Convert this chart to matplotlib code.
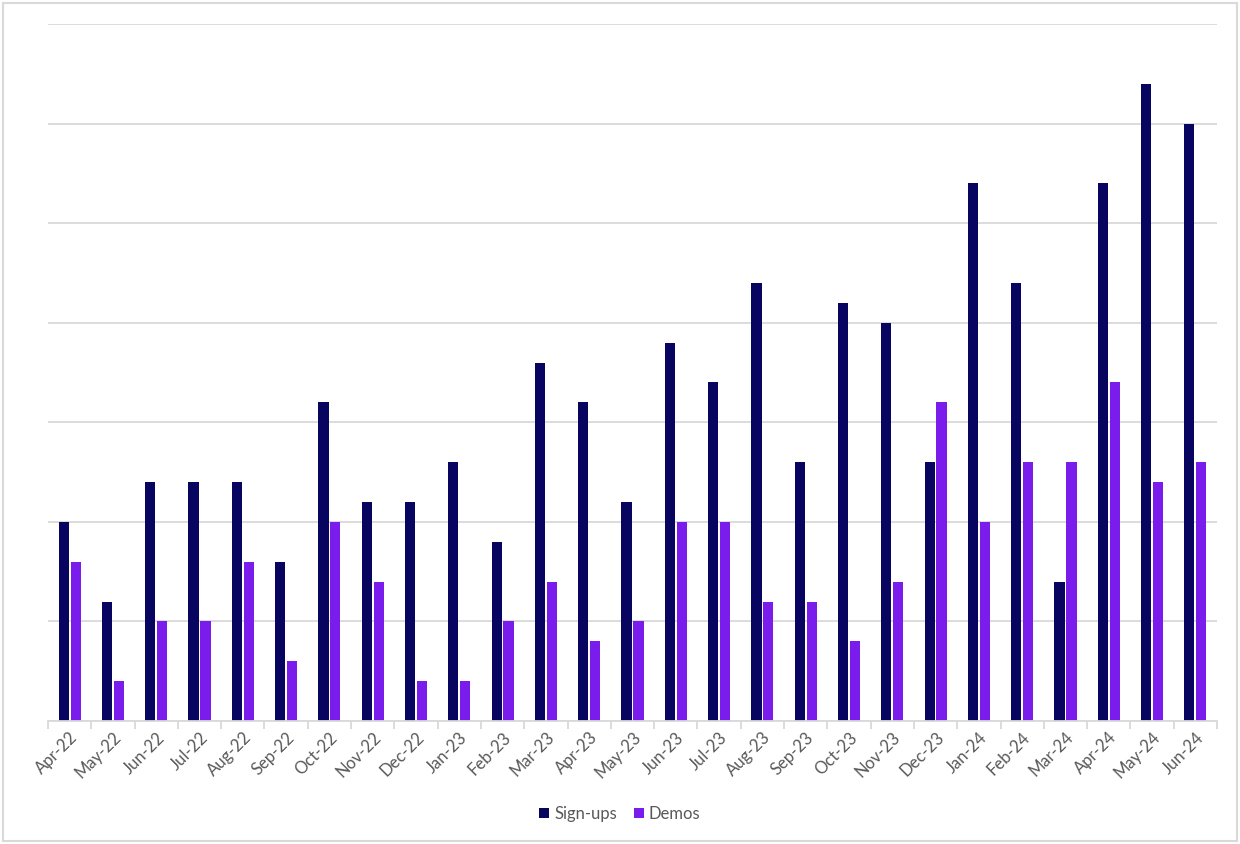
import numpy as np
import matplotlib.pyplot as plt
from matplotlib.patches import FancyBboxPatch

plt.rcParams['font.family'] = ['Lato', 'DejaVu Sans']

# data
months = ['Apr-22', 'May-22', 'Jun-22', 'Jul-22', 'Aug-22', 'Sep-22', 'Oct-22', 'Nov-22', 'Dec-22',
          'Jan-23', 'Feb-23', 'Mar-23', 'Apr-23', 'May-23', 'Jun-23', 'Jul-23', 'Aug-23', 'Sep-23',
          'Oct-23', 'Nov-23', 'Dec-23', 'Jan-24', 'Feb-24', 'Mar-24', 'Apr-24', 'May-24', 'Jun-24']
signups = [10, 6, 12, 12, 12, 8, 16, 11, 11, 13, 9, 18, 16, 11, 19, 17, 22, 13, 21, 20, 13, 27, 22, 7, 27, 32, 30]
demos = [8, 2, 5, 5, 8, 3, 10, 7, 2, 2, 5, 7, 4, 5, 10, 10, 6, 6, 4, 7, 16, 10, 13, 13, 17, 12, 13]

navy = '#07055F'
purple = '#7A1CEC'
grey = '#595959'

fig = plt.figure(figsize=(12.4, 8.44), dpi=100)
ax = fig.add_axes([48/1240, 1 - 721/844, (1217-48)/1240, (721-24)/844])

x = np.arange(len(months))
w = 0.235
ax.bar(x - w/2 - 0.02, signups, w, color=navy, label='Sign-ups')
ax.bar(x + w/2 + 0.02, demos, w, color=purple, label='Demos')

ax.set_xlim(-0.5, len(months) - 0.5)
ax.set_ylim(0, 35)
ax.set_yticks(np.arange(0, 36, 5))
ax.yaxis.grid(True, color='#D9D9D9', linewidth=1.3)
ax.set_axisbelow(True)
ax.tick_params(axis='y', length=0, labelleft=False)

# category labels centred, tick marks between categories
ax.set_xticks(x)
ax.set_xticklabels(months, rotation=45, ha='right', rotation_mode='anchor', color=grey, fontsize=12)
ax.tick_params(axis='x', length=0, pad=6)
ax.set_xticks(np.arange(-0.5, len(months)), minor=True)
ax.tick_params(axis='x', which='minor', length=6, color='#D9D9D9', width=1.3)

for s in ['top', 'right', 'left']:
    ax.spines[s].set_visible(False)
ax.spines['bottom'].set_color('#D9D9D9')
ax.spines['bottom'].set_linewidth(1.3)

leg = fig.legend(loc='center', bbox_to_anchor=(0.5, 1 - 814/844), ncol=2, frameon=False,
                 fontsize=12, handlelength=0.6, handleheight=0.6, handletextpad=0.3, columnspacing=1.0)
for t in leg.get_texts():
    t.set_color(grey)

# outer border
fig.patches.append(FancyBboxPatch((3/1240, 3/844), 1 - 6/1240, 1 - 6/844,
                                  boxstyle='square,pad=0', transform=fig.transFigure,
                                  facecolor='none', edgecolor='#D9D9D9', linewidth=1.5))

fig.savefig('out.png', dpi=100)
